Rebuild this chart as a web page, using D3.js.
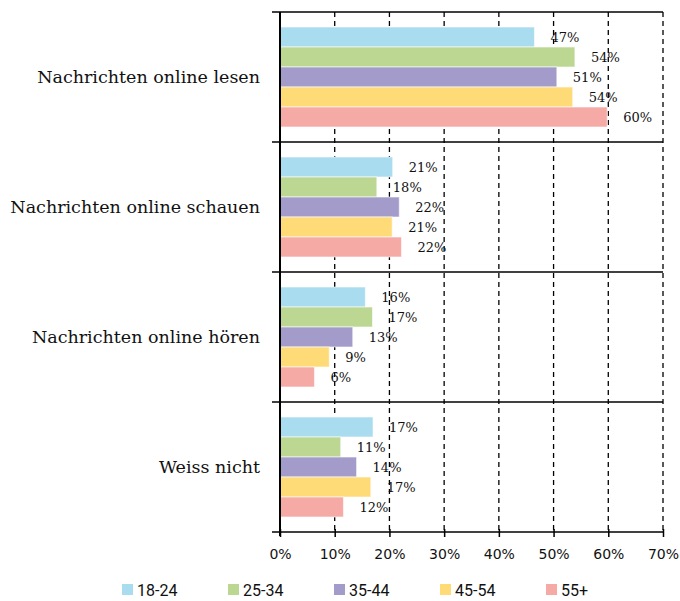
<!DOCTYPE html>
<html>
<head>
<meta charset="utf-8">
<script src="https://cdn.jsdelivr.net/npm/d3@7"></script>
<style>
  body { margin: 0; background: #fff; }
</style>
</head>
<body>
<div id="chart"></div>
<script>
// data
var categories = ["Nachrichten online lesen", "Nachrichten online schauen", "Nachrichten online hören", "Weiss nicht"];
var ages = ["18-24", "25-34", "35-44", "45-54", "55+"];
var colours = ["#a8dcee", "#bbd792", "#a39ccb", "#fedb76", "#f6aaa6"];
var values = [
  [46.5, 53.9, 50.6, 53.5, 59.8],
  [20.6, 17.7, 21.8, 20.5, 22.2],
  [15.6, 16.9, 13.3, 9.0, 6.3],
  [17.0, 11.1, 14.0, 16.6, 11.6]
];
var ticks = [0, 10, 20, 30, 40, 50, 60, 70];

var W = 680, H = 601;
var plotLeft = 280, plotRight = 663, plotTop = 12, plotBottom = 532;

var svg = d3.select("#chart").append("svg")
    .attr("width", W)
    .attr("height", H);

var x = d3.scaleLinear().domain([0, 70]).range([plotLeft, plotRight]);
var y = d3.scaleBand().domain(categories).range([plotTop, plotBottom]).padding(0);
var yInner = d3.scaleBand().domain(ages).range([0, y.bandwidth()]).paddingInner(0).paddingOuter(0.75);
var colour = d3.scaleOrdinal().domain(ages).range(colours);

//dashed grid
svg.append("g").selectAll("line")
    .data(ticks.slice(1))
    .enter().append("line")
    .attr("x1", d => x(d)).attr("x2", d => x(d))
    .attr("y1", plotTop).attr("y2", plotBottom)
    .attr("stroke", "#000")
    .attr("stroke-width", 1.3)
    .attr("stroke-dasharray", "5,4");

//category separators
var seps = categories.map(c => y(c)).concat([plotBottom]);
svg.append("g").selectAll("line")
    .data(seps)
    .enter().append("line")
    .attr("x1", plotLeft - 8).attr("x2", plotRight)
    .attr("y1", d => d).attr("y2", d => d)
    .attr("stroke", "#000")
    .attr("stroke-width", 1.3);

//bars
var groups = svg.append("g").selectAll("g")
    .data(categories)
    .enter().append("g")
    .attr("transform", d => `translate(0,${y(d)})`);

groups.selectAll("rect")
    .data((d, i) => values[i].map((v, j) => ({age: ages[j], v: v})))
    .enter().append("rect")
    .attr("x", x(0))
    .attr("y", d => yInner(d.age))
    .attr("width", d => x(d.v) - x(0))
    .attr("height", yInner.bandwidth())
    .attr("fill", d => colour(d.age))
    .attr("stroke", "#ffffff")
    .attr("stroke-opacity", 0.6)
    .attr("stroke-width", 1);

groups.selectAll("text")
    .data((d, i) => values[i].map((v, j) => ({age: ages[j], v: v})))
    .enter().append("text")
    .attr("x", d => x(d.v) + 16)
    .attr("y", d => yInner(d.age) + yInner.bandwidth() / 2)
    .attr("dy", "0.35em")
    .attr("font-family", "DejaVu Serif")
    .attr("font-size", "13px")
    .attr("fill", "#111")
    .text(d => Math.round(d.v) + "%");

//axes
svg.append("line")
    .attr("x1", x(0)).attr("x2", x(0))
    .attr("y1", plotTop).attr("y2", plotBottom + 4)
    .attr("stroke", "#000")
    .attr("stroke-width", 2);

var xAxis = d3.axisBottom(x)
    .tickValues(ticks)
    .tickSize(5)
    .tickSizeOuter(0)
    .tickFormat(d => d + "%");

var gx = svg.append("g")
    .attr("transform", `translate(0,${plotBottom})`)
    .call(xAxis);
gx.select(".domain").remove();
gx.selectAll(".tick line").attr("y1", -3).attr("y2", 5).attr("stroke-width", 1.5);
gx.selectAll("text")
    .attr("y", 17)
    .attr("font-family", "DejaVu Sans")
    .attr("font-size", "14px")
    .attr("fill", "#111");

//category labels
svg.append("g").selectAll("text")
    .data(categories)
    .enter().append("text")
    .attr("x", 260)
    .attr("y", d => y(d) + y.bandwidth() / 2)
    .attr("dy", "0.35em")
    .attr("text-anchor", "end")
    .attr("font-family", "DejaVu Serif")
    .attr("font-size", "17.5px")
    .attr("fill", "#111")
    .text(d => d);

//legend
var legend = svg.append("g").attr("transform", "translate(122,584)");
var items = legend.selectAll("g")
    .data(ages)
    .enter().append("g")
    .attr("transform", (d, i) => `translate(${i * 106},0)`);
items.append("rect")
    .attr("width", 11).attr("height", 11)
    .attr("fill", d => colour(d));
items.append("text")
    .attr("x", 15)
    .attr("y", 6)
    .attr("dy", "0.35em")
    .attr("font-family", "Roboto")
    .attr("font-size", "16px")
    .attr("fill", "#111")
    .text(d => d);
</script>
</body>
</html>
